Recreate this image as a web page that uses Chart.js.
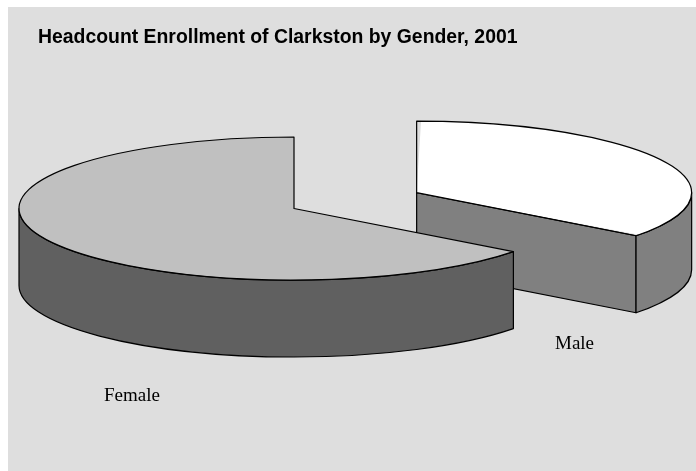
<!DOCTYPE html>
<html><head><meta charset="utf-8">
<style>html,body{margin:0;padding:0;background:#fff}canvas{display:block}</style>
<script src="https://cdn.jsdelivr.net/npm/chart.js@4"></script>
</head><body><canvas id="c" width="696" height="471"></canvas>
<script>
const titleText = "Headcount Enrollment of Clarkston by Gender, 2001";
const categories = ["Male", "Female"];
const values = [35.3, 64.7];
const topColors = ["#FFFFFF", "#C0C0C0"];
const wallColors = ["#808080", "#606060"];

// Projection of the flat pie onto the tilted 3D view
const SQUASH = 0.26, DEPTH = 77, RADIUS = 275;
const PIE_X = 294, PIE_Y = 208.5, LINE = 1.2;
const labelPos = { Male: [555, 349], Female: [104, 401] };

function geom(chart, arc) {
  const off = (arc.options.offset || 0) / 4;
  const mid = (arc.startAngle + arc.endAngle) / 2;
  return {
    x: PIE_X + Math.cos(mid) * off,
    y: PIE_Y + Math.sin(mid) * off * SQUASH,
    rx: RADIUS, ry: RADIUS * SQUASH,
    a: arc.startAngle, b: arc.endAngle
  };
}
function wall(ctx, g, fill) {
  ctx.fillStyle = fill; ctx.strokeStyle = "#000"; ctx.lineWidth = LINE; ctx.lineJoin = "round";
  const face = (t) => {
    const ex = g.x + g.rx * Math.cos(t), ey = g.y + g.ry * Math.sin(t);
    ctx.beginPath();
    ctx.moveTo(g.x, g.y); ctx.lineTo(ex, ey); ctx.lineTo(ex, ey + DEPTH); ctx.lineTo(g.x, g.y + DEPTH);
    ctx.closePath(); ctx.fill(); ctx.stroke();
  };
  if (Math.cos(g.b) > 1e-6) face(g.b);
  if (-Math.cos(g.a) > 1e-6) face(g.a);
  const s = Math.max(g.a, 0), e = Math.min(g.b, Math.PI);
  if (e > s) {
    ctx.beginPath();
    ctx.ellipse(g.x, g.y, g.rx, g.ry, 0, s, e);
    ctx.ellipse(g.x, g.y + DEPTH, g.rx, g.ry, 0, e, s, true);
    ctx.closePath(); ctx.fill(); ctx.stroke();
  }
}
function outline(ctx, g) {
  ctx.strokeStyle = "#000"; ctx.lineWidth = LINE; ctx.lineJoin = "round";
  ctx.beginPath();
  ctx.moveTo(g.x, g.y);
  ctx.ellipse(g.x, g.y, g.rx, g.ry, 0, g.a, g.b);
  ctx.closePath(); ctx.stroke();
}
const pie3d = {
  id: "pie3d",
  afterDatasetsUpdate(chart) {
    // Chart.js grows an offset arc while drawing; cancel that so exploded slices keep the same radius
    chart.getDatasetMeta(0).data.forEach((arc) => {
      const off = (arc.options.offset || 0) / 4;
      const fix = 1 - Math.sin(Math.min(Math.PI, arc.circumference || 0));
      arc.outerRadius = RADIUS - off * fix;
    });
  },
  beforeDraw(chart) {
    const ctx = chart.ctx;
    ctx.save();
    ctx.fillStyle = "#FFFFFF"; ctx.fillRect(0, 0, chart.width, chart.height);
    ctx.fillStyle = "#DEDEDE"; ctx.fillRect(8, 7, chart.width - 8, chart.height - 7);
    ctx.restore();
  },
  beforeDatasetsDraw(chart) {
    const ctx = chart.ctx, arcs = chart.getDatasetMeta(0).data;
    ctx.save();
    arcs.forEach((arc, i) => {
      wall(ctx, geom(chart, arc), wallColors[i]);
    });
    ctx.restore();
    ctx.save();
    const c = arcs[0];
    ctx.translate(PIE_X, PIE_Y); ctx.scale(1, SQUASH); ctx.translate(-c.x, -c.y);
  },
  afterDatasetsDraw(chart) {
    const ctx = chart.ctx, arcs = chart.getDatasetMeta(0).data;
    ctx.restore();
    ctx.save();
    arcs.forEach((arc) => outline(ctx, geom(chart, arc)));
    ctx.fillStyle = "#000";
    ctx.font = "19px 'Liberation Serif'";
    ctx.textAlign = "left"; ctx.textBaseline = "alphabetic";
    categories.forEach((n) => ctx.fillText(n, labelPos[n][0], labelPos[n][1]));
    ctx.restore();
  }
};
new Chart(document.getElementById("c"), {
  type: "pie",
  data: { labels: categories, datasets: [{
    data: values, backgroundColor: topColors, borderWidth: 0, clip: false,
    offset: [548, 0], radius: RADIUS, cutout: "0%"
  }]},
  options: {
    responsive: false, animation: false, events: [],
    layout: { padding: { left: 38, top: 26 } },
    plugins: {
      legend: { display: false }, tooltip: { enabled: false },
      title: { display: true, text: titleText, align: "start", color: "#000", padding: 0,
        font: { family: "'Liberation Sans'", size: 19.4, weight: "bold" } }
    }
  },
  plugins: [pie3d]
});
</script></body></html>
